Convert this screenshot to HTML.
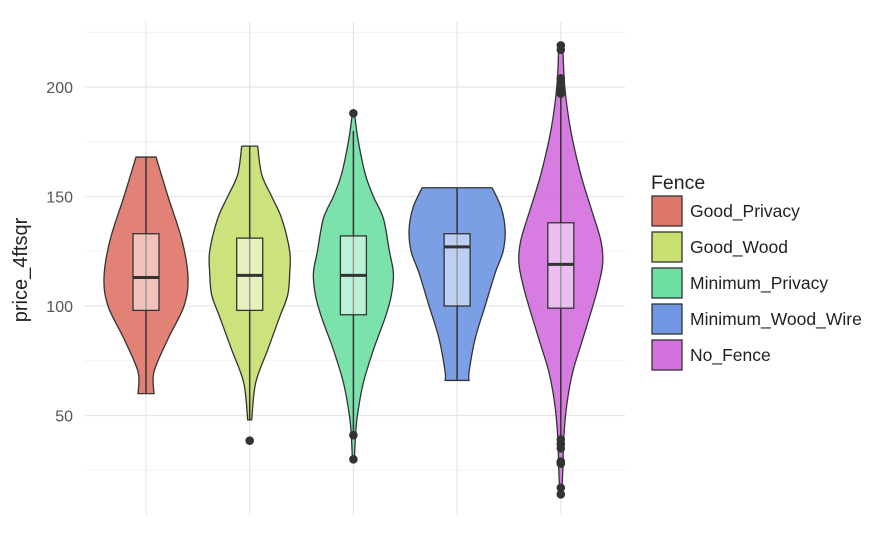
<!DOCTYPE html>
<html><head><meta charset="utf-8"><style>
body{margin:0;background:#fff;font-family:"Liberation Sans","DejaVu Sans",sans-serif}
</style></head><body>
<svg id="chart" width="885" height="546" xmlns="http://www.w3.org/2000/svg">
<g id="grid"></g>
<g id="marks"></g>
<g id="axis"></g>
<text x="27" y="270" transform="rotate(-90 27 270)" text-anchor="middle" font-size="20" fill="#222">price_4ftsqr</text>
<g id="legend">
<text x="651" y="189" font-size="19.5" fill="#222">Fence</text>
</g>
</svg>
<script>
const categories=["Good_Privacy","Good_Wood","Minimum_Privacy","Minimum_Wood_Wire","No_Fence"];
const colors=["#e0776b","#c8df72","#6fe0a3","#6f97e2","#d472e0"];
const densVals=[
 [60,70,85,100,113,130,150,168],
 [48,65,80,95,105,115,125,140,150,160,173],
 [30,40,50,65,80,95,105,115,125,140,150,160,175,188],
 [66,70,85,100,115,125,135,145,154],
 [14,25,40,55,70,85,100,110,120,130,145,160,180,200,219]];
const densWidths=[
 [8,8,22,38,42,36,22,10],
 [2,6,18,30,38,40,40,32,22,12,8],
 [1,2,4,10,20,32,38,40,36,30,20,12,5,1],
 [12,12,18,28,38,46,48,44,35],
 [1,2,3,6,12,22,32,38,42,40,30,20,10,4,2]];
const q1=[98,98,96,100,99], med=[113,114,114,127,119], q3=[133,131,132,133,138];
const whiskLo=[60,48,43,66,40], whiskHi=[168,173,180,154,196];
const outliers=[[],[38.5],[188,41,30],[],[197,199,202,204,217,219,39,37,35,29,28,17,14]];
const yTicks=[50,100,150,200];
const yMinor=[25,75,125,175,225];

const NS="http://www.w3.org/2000/svg";
const y=v=>306-(v-100)*2.19;
const x=i=>146+i*103.7;
const L=85,R=625,T=22,B=515;
function mk(tag,attrs,parent){const e=document.createElementNS(NS,tag);for(const k in attrs)e.setAttribute(k,attrs[k]);parent.appendChild(e);return e;}
const grid=document.getElementById('grid'),marks=document.getElementById('marks'),axis=document.getElementById('axis'),legend=document.getElementById('legend');
yMinor.forEach(v=>{const l=mk('line',{x1:L,x2:R,y1:y(v),y2:y(v),stroke:'#f2f2f2','stroke-width':1},grid);

});
yTicks.forEach(v=>{const l=mk('line',{x1:L,x2:R,y1:y(v),y2:y(v),stroke:'#e6e6e6','stroke-width':1.2},grid);


const t=mk('text',{x:73,y:y(v)+6,'text-anchor':'end','font-size':16,fill:'#555'},axis);t.textContent=v;

});
categories.forEach((c,i)=>{const l=mk('line',{x1:x(i),x2:x(i),y1:T,y2:B,stroke:'#e6e6e6','stroke-width':1.2},grid);

});
categories.forEach((c,i)=>{
 const cx=x(i),dv=densVals[i],dw=densWidths[i];
 const g=mk('g',{},marks);
 
 
 const right=dv.map((v,k)=>[cx+dw[k],y(v)]), left=dv.map((v,k)=>[cx-dw[k],y(v)]).reverse();
 function curve(pts){let d='';for(let k=0;k<pts.length-1;k++){const p0=pts[Math.max(k-1,0)],p1=pts[k],p2=pts[k+1],p3=pts[Math.min(k+2,pts.length-1)];
 d+=` C${p1[0]+(p2[0]-p0[0])/6},${p1[1]+(p2[1]-p0[1])/6} ${p2[0]-(p3[0]-p1[0])/6},${p2[1]-(p3[1]-p1[1])/6} ${p2[0]},${p2[1]}`;}return d;}
 const d=`M${right[0][0]},${right[0][1]}`+curve(right)+` L${left[0][0]},${left[0][1]}`+curve(left)+'Z';
 const p=mk('path',{d,fill:colors[i],'fill-opacity':0.92,stroke:'#333','stroke-width':1.3},g);
 
 
 const w=mk('line',{x1:cx,x2:cx,y1:y(whiskLo[i]),y2:y(whiskHi[i]),stroke:'#333','stroke-width':1.5},g);
 
 
 const bx=mk('rect',{x:cx-13,y:y(q3[i]),width:26,height:y(q1[i])-y(q3[i]),fill:'#fff','fill-opacity':0.5,stroke:'#333','stroke-width':1.3},g);
 
 
 const m=mk('line',{x1:cx-13,x2:cx+13,y1:y(med[i]),y2:y(med[i]),stroke:'#333','stroke-width':3},g);
 
 
 outliers[i].forEach(o=>{const c2=mk('circle',{cx,cy:y(o),r:4.3,fill:'#333'},g);
 
 });
 const ly=196+i*36;
 const lg=mk('g',{},legend);
 
 
 mk('rect',{x:652,y:ly,width:30,height:30,fill:colors[i],stroke:'#333','stroke-width':1.3},lg);
 const t=mk('text',{x:690,y:ly+21,'font-size':17.5,fill:'#222'},lg);t.textContent=c;
});
</script>
</body></html>
